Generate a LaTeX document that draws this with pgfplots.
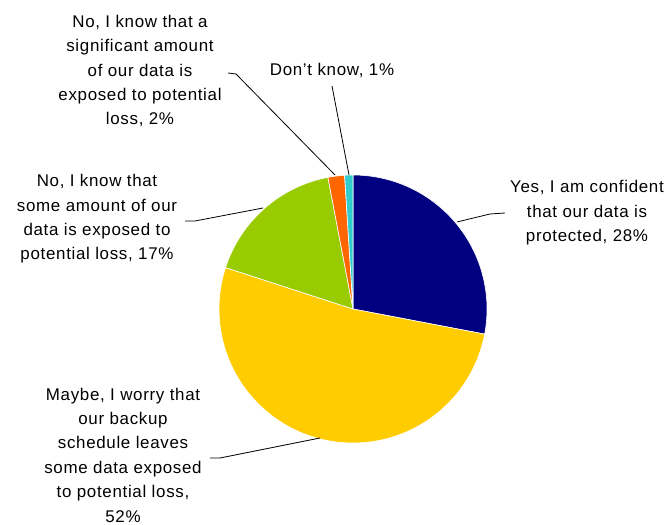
\documentclass[border=0pt]{standalone}
\usepackage{fontspec}
\setmainfont{Liberation Sans}[LetterSpace=4]
\usepackage{pgfplots}
\pgfplotsset{compat=1.18}
\definecolor{cNavy}{HTML}{000080}
\definecolor{cYellow}{HTML}{FFCC00}
\definecolor{cGreen}{HTML}{99CC00}
\definecolor{cOrange}{HTML}{FF6600}
\definecolor{cCyan}{HTML}{33CCCC}
\tikzset{lbl/.style={align=center, inner sep=0pt, font=\fontsize{17}{24.5}\selectfont}}
% percentages
\def\pYes{28}
\def\pMaybe{52}
\def\pSome{17}
\def\pSig{2}
\def\pDont{1}
\begin{document}
\begin{tikzpicture}
\pgfmathsetmacro{\aA}{90}
\pgfmathsetmacro{\aB}{\aA-3.6*\pYes}
\pgfmathsetmacro{\aC}{\aB-3.6*\pMaybe}
\pgfmathsetmacro{\aD}{\aC-3.6*\pSome}
\pgfmathsetmacro{\aE}{\aD-3.6*\pSig}
\pgfmathsetmacro{\aF}{\aE-3.6*\pDont}
\begin{axis}[name=ax, scale only axis, width=669bp, height=525bp,
  xmin=0, xmax=669, ymin=-525, ymax=0, hide axis, clip=false]
\addplot[fill=cNavy, draw=white, line width=0.6bp, domain=\aA:\aB, samples=80] ({353+134*cos(x)},{-309+134*sin(x)}) -- (353,-309) -- cycle;
\addplot[fill=cYellow, draw=white, line width=0.6bp, domain=\aB:\aC, samples=120] ({353+134*cos(x)},{-309+134*sin(x)}) -- (353,-309) -- cycle;
\addplot[fill=cGreen, draw=white, line width=0.6bp, domain=\aC:\aD, samples=60] ({353+134*cos(x)},{-309+134*sin(x)}) -- (353,-309) -- cycle;
\addplot[fill=cOrange, draw=white, line width=0.6bp, domain=\aD:\aE, samples=10] ({353+134*cos(x)},{-309+134*sin(x)}) -- (353,-309) -- cycle;
\addplot[fill=cCyan, draw=white, line width=0.6bp, domain=\aE:\aF, samples=10] ({353+134*cos(x)},{-309+134*sin(x)}) -- (353,-309) -- cycle;
% leader lines
\addplot[black, line width=0.8bp] coordinates {(457,-222) (490,-214) (505,-213)};
\addplot[black, line width=0.8bp] coordinates {(185,-221) (195,-221) (263,-208)};
\addplot[black, line width=0.8bp] coordinates {(210,-458) (220,-458) (320,-438)};
\addplot[black, line width=0.8bp] coordinates {(228,-73) (236,-74) (335,-175)};
\addplot[black, line width=0.8bp] coordinates {(332,-86) (349,-175)};
% labels
\node[lbl] at (587,-213) {Yes, I am confident\\that our data is\\protected, 28\%};
\node[lbl] at (123,-455) {Maybe, I worry that\\our backup\\schedule leaves\\some data exposed\\to potential loss,\\52\%};
\node[lbl] at (97,-219) {No, I know that\\some amount of our\\data is exposed to\\potential loss, 17\%};
\node[lbl] at (140,-71) {No, I know that a\\significant amount\\of our data is\\exposed to potential\\loss, 2\%};
\node[lbl] at (332,-70) {Don’t know, 1\%};
\end{axis}
\pgfresetboundingbox
\path (ax.south west) rectangle (ax.north east);
\end{tikzpicture}
\end{document}
